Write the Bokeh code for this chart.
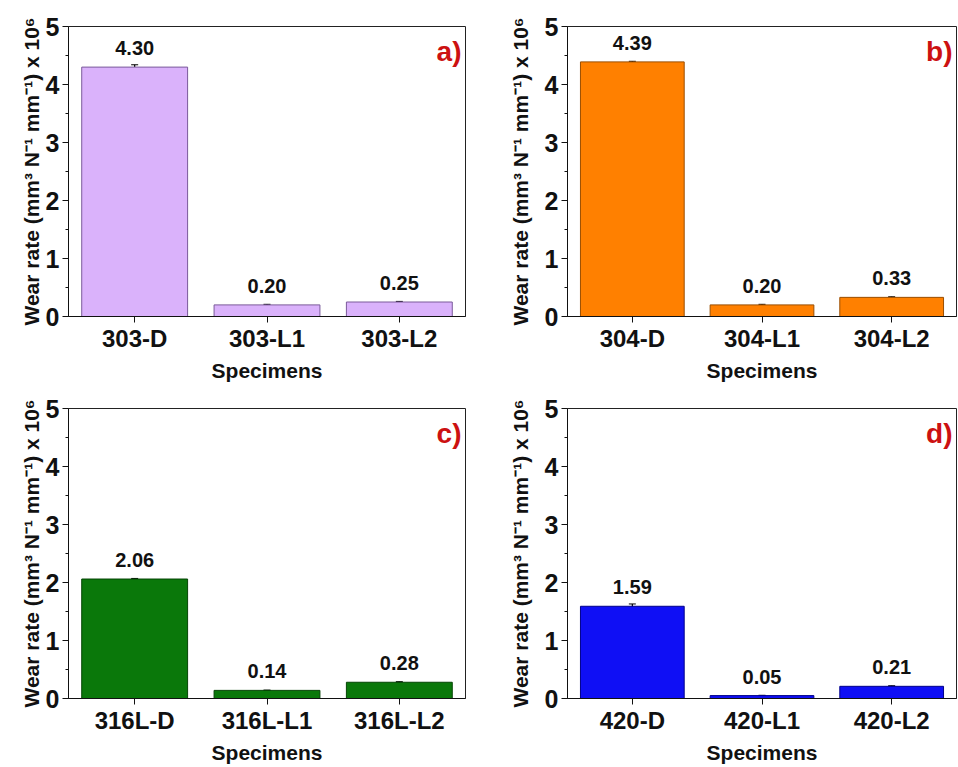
from bokeh.plotting import figure
from bokeh.models import Range1d, FactorRange, ColumnDataSource, Whisker, Label, FixedTicker
from bokeh.layouts import column, row
from bokeh.embed import file_html
from bokeh.resources import INLINE
from bokeh.core.properties import value

# ---- data ----
cats_a = ["303-D", "303-L1", "303-L2"]
vals_a = [4.30, 0.20, 0.25]
err_a = [0.04, 0.01, 0.01]

cats_b = ["304-D", "304-L1", "304-L2"]
vals_b = [4.39, 0.20, 0.33]
err_b = [0.01, 0.01, 0.01]

cats_c = ["316L-D", "316L-L1", "316L-L2"]
vals_c = [2.06, 0.14, 0.28]
err_c = [0.01, 0.005, 0.01]

cats_d = ["420-D", "420-L1", "420-L2"]
vals_d = [1.59, 0.05, 0.21]
err_d = [0.04, 0.005, 0.01]

panel_labels = ["a)", "b)", "c)", "d)"]
y_ticks = [0, 1, 2, 3, 4, 5]

FONT = "Liberation Sans"
YLABEL = "Wear rate (mm\u00b3 N\u207b\u00b9 mm\u207b\u00b9) x 10\u2076"


def make_panel(cats, vals, errs, fill, line, tag, width, height,
               bl, br, bt, bb, label_standoff):
    p = figure(x_range=FactorRange(*cats, range_padding=0), y_range=Range1d(0, 5),
               width=width, height=height, output_backend="svg",
               toolbar_location=None, tools="",
               min_border_left=bl, min_border_right=br,
               min_border_top=bt, min_border_bottom=bb)
    src = ColumnDataSource(dict(
        x=cats, top=vals,
        upper=[v + e for v, e in zip(vals, errs)],
        lower=[v - e for v, e in zip(vals, errs)],
        txt=["%.2f" % v for v in vals],
    ))
    p.vbar(x="x", top="top", width=0.8, bottom=0, source=src,
           fill_color=fill, line_color=line, line_width=1)
    w = Whisker(base="x", upper="upper", lower="lower", source=src,
                line_color="black", line_width=1.2)
    w.upper_head.size = 7
    w.lower_head.size = 7
    w.upper_head.line_color = "black"
    w.lower_head.line_color = "black"
    p.add_layout(w)
    p.text(x="x", y="top", text="txt", source=src, text_align="center",
           text_baseline="middle", y_offset=-19,
           text_font=value(FONT), text_font_style="bold",
           text_font_size="20px", text_color="#111111")
    p.add_layout(Label(x=width - bl - br - 4, y=height - bt - bb - 27,
                       x_units="screen", y_units="screen", text=tag,
                       text_align="right", text_baseline="middle",
                       text_font=FONT, text_font_style="bold",
                       text_font_size="28px", text_color="#cc1111"))
    p.xgrid.visible = False
    p.ygrid.visible = False
    p.outline_line_color = "#222222"
    p.outline_line_width = 1
    p.background_fill_color = "white"
    p.border_fill_color = "white"

    p.yaxis.ticker = FixedTicker(ticks=y_ticks,
                                 minor_ticks=[t + 0.5 for t in y_ticks[:-1]])
    for ax in (p.xaxis, p.yaxis):
        ax.axis_line_color = "#111111"
        ax.major_tick_line_color = "#111111"
        ax.minor_tick_line_color = "#111111"
        ax.major_tick_in = 0
        ax.major_tick_out = 6
        ax.minor_tick_in = 0
        ax.minor_tick_out = 3
        ax.major_label_text_font = FONT
        ax.major_label_text_font_style = "bold"
        ax.major_label_text_color = "#111111"
        ax.axis_label_text_font = FONT
        ax.axis_label_text_font_style = "bold"
        ax.axis_label_text_color = "#111111"
    p.xaxis.major_label_text_font_size = "24px"
    p.yaxis.major_label_text_font_size = "25px"
    p.xaxis.axis_label = "Specimens"
    p.xaxis.axis_label_text_font_size = "21px"
    p.xaxis.axis_label_standoff = 4
    p.xaxis.major_label_standoff = 2
    p.yaxis.axis_label = YLABEL
    p.yaxis.axis_label_text_font_size = "21px"
    p.yaxis.axis_label_standoff = label_standoff
    p.yaxis.major_label_standoff = 3
    return p


pa = make_panel(cats_a, vals_a, err_a, "#dab2fb", "#7a5a9a", panel_labels[0],
                480, 384, 68, 15, 26, 66, 0)
pb = make_panel(cats_b, vals_b, err_b, "#ff8000", "#9a4e00", panel_labels[1],
                477, 384, 87, 1, 26, 66, 10)
pc = make_panel(cats_c, vals_c, err_c, "#0a780a", "#054505", panel_labels[2],
                480, 382, 68, 15, 24, 66, 0)
pd = make_panel(cats_d, vals_d, err_d, "#0f0ff5", "#00008a", panel_labels[3],
                477, 382, 87, 1, 24, 66, 10)

layout = column(row(pa, pb), row(pc, pd))
open("out.html", "w").write(file_html(layout, INLINE))
